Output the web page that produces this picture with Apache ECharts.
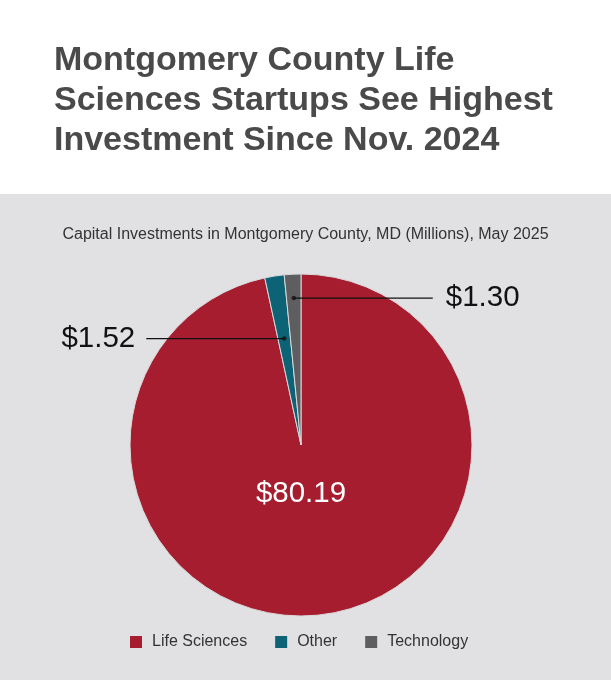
<!DOCTYPE html>
<html lang="en" style="background: #FFFFFF;height: 100%">
<head>
  <meta charset="utf-8" />
  <title>Montgomery County capital investments</title>
  <script type="text/javascript" src="https://cdn.jsdelivr.net/npm/echarts@6/dist/echarts.min.js"></script>
</head>
<body style="margin: 0;height: 100%">
<div id="chart" style="width: 611px;height: 680px"></div>
<script>
  // categories and values (millions of dollars), May 2025
  const categories = ['Life Sciences', 'Other', 'Technology'];
  const values = [80.19, 1.52, 1.30];
  const colors = ['#a51d2f', '#0c6375', '#5e5e61'];
  const labelText = ['$80.19', '$1.52', '$1.30'];

  const total = values.reduce((a, b) => a + b, 0);
  const CX = 301, CY = 445, R = 171;
  // where the leader lines start, as a share of the radius
  const dotRadius = [null, 0.63, 0.86];

  // cumulative mid value of each slice, for the polar dots
  const mids = [];
  let acc = 0;
  values.forEach(v => { mids.push(acc + v / 2); acc += v; });

  const pieData = categories.map((name, i) => ({
    name: name,
    value: values[i],
    itemStyle: { color: colors[i] }
  }));

  // start of a leader line: edge of the invisible pie at the slice's mid angle
  function edgePoint(idx) {
    const a = mids[idx] / total * Math.PI * 2;
    const rr = R * dotRadius[idx];
    return [CX + rr * Math.sin(a), CY - rr * Math.cos(a)];
  }

  function leaderPie(idx, side) {
    return {
      type: 'pie',
      center: [CX, CY],
      radius: R * dotRadius[idx],
      startAngle: 90,
      clockwise: true,
      silent: true,
      avoidLabelOverlap: false,
      z: 5,
      itemStyle: { color: 'rgba(0,0,0,0)', borderWidth: 0 },
      label: { show: false },
      labelLine: { show: false },
      data: categories.map((name, i) => ({
        name: name,
        value: values[i],
        label: i === idx ? {
          show: true,
          position: 'outside',
          formatter: labelText[i],
          fontFamily: 'Liberation Sans',
          fontSize: 29.5,
          color: '#111'
        } : { show: false },
        labelLine: i === idx ? {
          show: true,
          lineStyle: { color: '#111', width: 1.2 }
        } : { show: false }
      })),
      labelLayout: function (params) {
        if (params.dataIndex !== idx) return {};
        const p0 = (params.labelLinePoints && params.labelLinePoints[0]) || edgePoint(idx);
        if (side > 0) {
          const end = p0[0] + 139;
          return {
            x: end + 13, y: p0[1], align: 'left', verticalAlign: 'middle',
            labelLinePoints: [p0, [end, p0[1]]]
          };
        }
        const end = p0[0] - 138;
        return {
          x: end - 11, y: p0[1], align: 'right', verticalAlign: 'middle',
          labelLinePoints: [p0, [end, p0[1]]]
        };
      }
    };
  }

  const chart = echarts.init(document.getElementById('chart'));
  chart.setOption({
    animation: false,
    backgroundColor: '#ffffff',
    graphic: [{
      type: 'rect',
      z: -10,
      shape: { x: 0, y: 194, width: 611, height: 486 },
      style: { fill: '#e1e1e3' }
    }],
    title: [{
      text: 'Montgomery County Life\nSciences Startups See Highest\nInvestment Since Nov. 2024',
      left: 49,
      top: 36,
      textStyle: {
        fontFamily: 'Liberation Sans',
        fontSize: 34,
        fontWeight: 'bold',
        lineHeight: 40,
        color: '#4a4a4a'
      }
    }, {
      text: 'Capital Investments in Montgomery County, MD (Millions), May 2025',
      left: 'center',
      top: 222,
      textStyle: {
        fontFamily: 'Liberation Sans',
        fontSize: 16,
        fontWeight: 'normal',
        color: '#333'
      }
    }],
    legend: {
      data: categories,
      bottom: 25,
      left: 125,
      icon: 'rect',
      itemWidth: 12,
      itemHeight: 12,
      itemGap: 28,
      itemStyle: { borderWidth: 0 },
      textStyle: {
        fontFamily: 'Liberation Sans',
        fontSize: 16,
        color: '#333',
        padding: [0, 0, 0, 5]
      }
    },
    polar: { center: [CX, CY], radius: R },
    angleAxis: {
      type: 'value', min: 0, max: total, startAngle: 90, clockwise: true, show: false
    },
    radiusAxis: { type: 'value', min: 0, max: 1, show: false },
    series: [{
      type: 'pie',
      center: [CX, CY],
      radius: R,
      startAngle: 90,
      clockwise: true,
      silent: true,
      avoidLabelOverlap: false,
      itemStyle: { borderColor: '#d9d9db', borderWidth: 1 },
      label: { show: false },
      labelLine: { show: false },
      data: pieData.map((d, i) => i === 0 ? Object.assign({}, d, {
        label: {
          show: true,
          position: 'center',
          offset: [0, 49],
          formatter: labelText[0],
          fontFamily: 'Liberation Sans',
          fontSize: 29.5,
          color: '#ffffff'
        }
      }) : d)
    },
    leaderPie(2, 1),
    leaderPie(1, -1),
    {
      type: 'scatter',
      coordinateSystem: 'polar',
      silent: true,
      z: 6,
      symbolSize: 4.5,
      itemStyle: { color: '#111' },
      data: [[dotRadius[2], mids[2]], [dotRadius[1], mids[1]]]
    }]
  });

  window.addEventListener('resize', () => {
    chart.resize();
  });
</script>
</body>
</html>
